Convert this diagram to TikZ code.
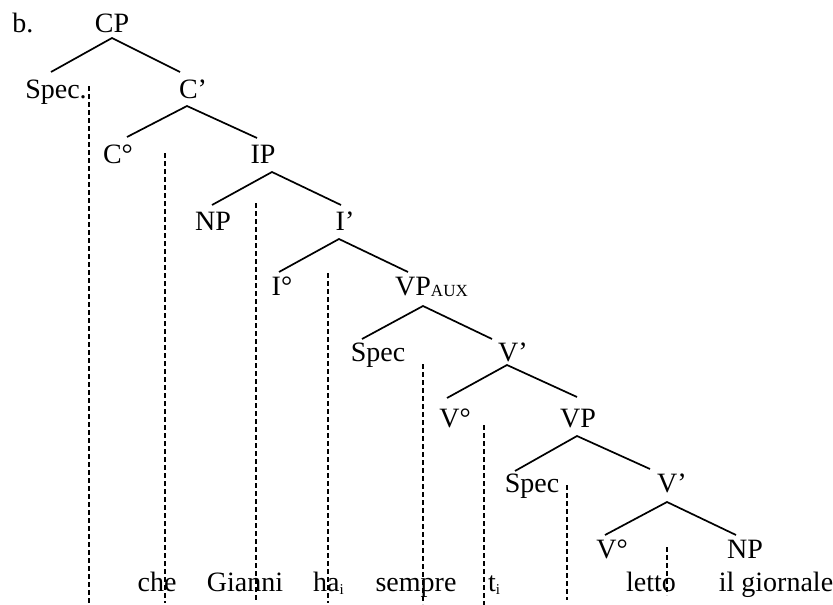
\documentclass[tikz,border=0pt]{standalone}
\usepackage{fontspec}
\setmainfont{Liberation Serif}
\newcommand{\aux}{\raisebox{-1.5pt}{\fontsize{17}{17}\selectfont AUX}}
\newcommand{\idx}{\raisebox{-3pt}{\fontsize{15}{15}\selectfont i}}
\begin{document}
\begin{tikzpicture}[x=1pt,y=-1pt,
  lbl/.style={anchor=base,inner sep=0pt,font=\fontsize{28}{32}\selectfont},
  br/.style={line width=1.7pt},
  tr/.style={line width=1.2pt,dash pattern=on 5pt off 3pt}]
\useasboundingbox (0,0) rectangle (833,605);
% labels
\node[lbl] (b) at (23,32) {b.};
\node[lbl] (cp) at (112,32) {CP};
\node[lbl] (spec1) at (56,98) {Spec.};
\node[lbl] (c1) at (193,98) {C’};
\node[lbl] (c0) at (118,163) {C°};
\node[lbl] (ip) at (263,163) {IP};
\node[lbl] (np1) at (213,230) {NP};
\node[lbl] (i1) at (345,230) {I’};
\node[lbl] (i0) at (282,295) {I°};
\node[lbl,anchor=base west] (vpaux) at (395,295) {VP\aux};
\node[lbl] (spec2) at (378,361) {Spec};
\node[lbl] (v1a) at (513,361) {V’};
\node[lbl] (v0a) at (455,427) {V°};
\node[lbl] (vp) at (578,427) {VP};
\node[lbl] (spec3) at (532,492) {Spec};
\node[lbl] (v1b) at (672,492) {V’};
\node[lbl] (v0b) at (612,558) {V°};
\node[lbl] (np2) at (745,558) {NP};
% words
\node[lbl] (w1) at (157,591) {che};
\node[lbl] (w2) at (245,591) {Gianni};
\node[lbl,anchor=base west] (w3) at (313,591) {ha\idx};
\node[lbl] (w4) at (416,591) {sempre};
\node[lbl,anchor=base west] (w5) at (488,591) {t\idx};
\node[lbl] (w6) at (651,591) {letto};
\node[lbl] (w7) at (776,591) {il giornale};
% branch points
\coordinate (cpA) at (112,38);  \coordinate (cpL) at (51,72);   \coordinate (cpR) at (180,72);
\coordinate (c1A) at (187,106); \coordinate (c1L) at (127,137); \coordinate (c1R) at (257,138);
\coordinate (ipA) at (272,172); \coordinate (ipL) at (212,205); \coordinate (ipR) at (341,205);
\coordinate (i1A) at (339,239); \coordinate (i1L) at (279,272); \coordinate (i1R) at (408,272);
\coordinate (vaA) at (423,306); \coordinate (vaL) at (362,339); \coordinate (vaR) at (492,339);
\coordinate (v1A) at (507,365); \coordinate (v1L) at (447,398); \coordinate (v1R) at (577,397);
\coordinate (vpA) at (577,436); \coordinate (vpL) at (515,471); \coordinate (vpR) at (650,469);
\coordinate (v2A) at (667,502); \coordinate (v2L) at (605,535); \coordinate (v2R) at (736,535);
\draw[br] (cpL) -- (cpA) -- (cpR);
\draw[br] (c1L) -- (c1A) -- (c1R);
\draw[br] (ipL) -- (ipA) -- (ipR);
\draw[br] (i1L) -- (i1A) -- (i1R);
\draw[br] (vaL) -- (vaA) -- (vaR);
\draw[br] (v1L) -- (v1A) -- (v1R);
\draw[br] (vpL) -- (vpA) -- (vpR);
\draw[br] (v2L) -- (v2A) -- (v2R);
% traces
\coordinate (d1t) at (89,86);   \coordinate (d1b) at (89,603);
\coordinate (d2t) at (165,153); \coordinate (d2b) at (165,603);
\coordinate (d3t) at (256,203); \coordinate (d3b) at (256,600);
\coordinate (d4t) at (328,273); \coordinate (d4b) at (328,603);
\coordinate (d5t) at (423,364); \coordinate (d5b) at (423,604);
\coordinate (d6t) at (484,425); \coordinate (d6b) at (484,605);
\coordinate (d7t) at (567,485); \coordinate (d7b) at (567,600);
\coordinate (d8t) at (667,547); \coordinate (d8b) at (667,595);
\foreach \k in {1,...,8} \draw[tr] (d\k t) -- (d\k b);
\end{tikzpicture}
\end{document}
